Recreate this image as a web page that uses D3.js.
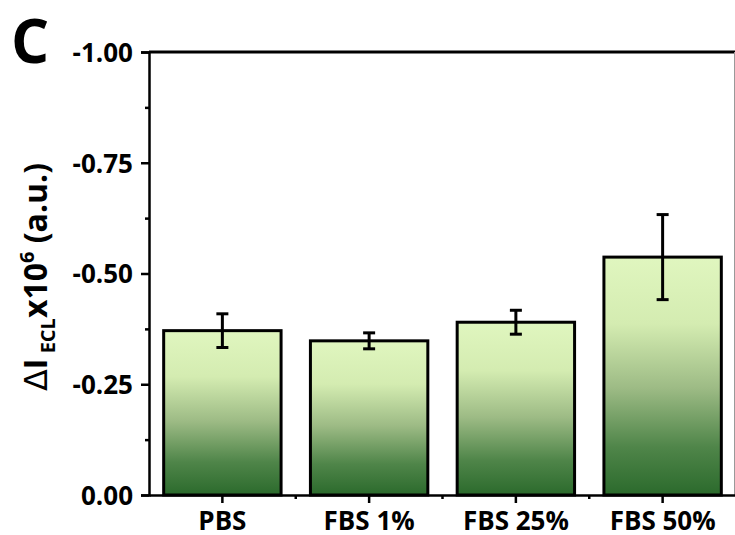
<!DOCTYPE html>
<html>
<head>
<meta charset="utf-8">
<script src="https://cdn.jsdelivr.net/npm/d3@7"></script>
<style>
  html, body { margin: 0; padding: 0; background: #fff; }
  svg { display: block; }
  text { font-family: "Open Sans", "Noto Sans", sans-serif; font-weight: 700; fill: #000; }
</style>
</head>
<body>
<svg id="chart" width="735" height="535"></svg>
<script>
// Sample groups and measured ECL signal change (x10^6, a.u.)
const categories = ["PBS", "FBS 1%", "FBS 25%", "FBS 50%"];
const values = [-0.371, -0.348, -0.390, -0.537];
const errors = [0.038, 0.018, 0.027, 0.096];
const yTicks = [0, -0.25, -0.5, -0.75, -1.0];
const yMinorTicks = [-0.125, -0.375, -0.625, -0.875];

const svg = d3.select("#chart");
const plotLeft = 149, plotRight = 736, plotTop = 52, plotBottom = 495;

const x = d3.scaleBand().domain(categories).range([plotLeft, plotRight])
  .paddingInner(0.2).paddingOuter(0.1);
const y = d3.scaleLinear().domain([0, -1]).range([plotBottom, plotTop]);

// Vertical gradient: pale green at the top of each bar, deep green at its base
const defs = svg.append("defs");
const grad = defs.append("linearGradient").attr("id", "barFill")
  .attr("x1", 0).attr("y1", 0).attr("x2", 0).attr("y2", 1);
grad.append("stop").attr("offset", "0%").attr("stop-color", "#e0f6bf");
grad.append("stop").attr("offset", "28%").attr("stop-color", "#d4ecb1");
grad.append("stop").attr("offset", "55%").attr("stop-color", "#9dbb85");
grad.append("stop").attr("offset", "80%").attr("stop-color", "#4f8549");
grad.append("stop").attr("offset", "100%").attr("stop-color", "#2b6a2c");

// Bars
svg.append("g").selectAll("rect").data(categories).join("rect")
  .attr("x", d => x(d))
  .attr("y", (d, i) => y(values[i]))
  .attr("width", x.bandwidth())
  .attr("height", (d, i) => y(0) - y(values[i]))
  .attr("fill", "url(#barFill)")
  .attr("stroke", "#000")
  .attr("stroke-width", 3);

// Error bars
const eb = svg.append("g").attr("stroke", "#000").attr("stroke-width", 3);
categories.forEach((c, i) => {
  const cx = x(c) + x.bandwidth() / 2;
  const y1 = y(values[i] - errors[i]), y2 = y(values[i] + errors[i]);
  eb.append("line").attr("x1", cx).attr("x2", cx).attr("y1", y1).attr("y2", y2);
  eb.append("line").attr("x1", cx - 6).attr("x2", cx + 6).attr("y1", y1).attr("y2", y1);
  eb.append("line").attr("x1", cx - 6).attr("x2", cx + 6).attr("y1", y2).attr("y2", y2);
});

// Frame (top and right edges)
svg.append("line").attr("x1", plotLeft).attr("x2", plotRight).attr("y1", plotTop).attr("y2", plotTop)
  .attr("stroke", "#000").attr("stroke-width", 2.8);
svg.append("line").attr("x1", 734.5).attr("x2", 734.5).attr("y1", plotTop).attr("y2", plotBottom)
  .attr("stroke", "#999").attr("stroke-width", 1);

// Y axis (plain hyphen for the minus sign)
const fmt = d => d3.format(".2f")(d).replace("\u2212", "-");
const yAxis = svg.append("g").attr("transform", `translate(${plotLeft},0)`)
  .call(d3.axisLeft(y).tickValues(yTicks).tickFormat(fmt).tickSize(8).tickPadding(8));
yAxis.attr("font-family", null).attr("font-size", null);
yAxis.select(".domain").attr("stroke-width", 2.5);
yAxis.selectAll(".tick line").attr("stroke-width", 2.5);
yAxis.selectAll(".tick text").attr("font-size", 26).attr("dy", "0.36em");
svg.append("g").attr("transform", `translate(${plotLeft},0)`)
  .call(d3.axisLeft(y).tickValues(yMinorTicks).tickFormat("").tickSize(4))
  .call(g => g.select(".domain").remove())
  .selectAll(".tick line").attr("stroke-width", 2.5);

// X axis
const xAxis = svg.append("g").attr("transform", `translate(0,${plotBottom})`)
  .call(d3.axisBottom(x).tickSize(8).tickPadding(9).tickSizeOuter(0));
xAxis.attr("font-family", null).attr("font-size", null);
xAxis.select(".domain").attr("stroke-width", 2.5);
xAxis.selectAll(".tick line").attr("stroke-width", 2.5);
xAxis.selectAll(".tick text").attr("font-size", 26);
// minor ticks between groups
const step = x.step();
const boundaries = categories.slice(1).map(c => x(c) - step * x.paddingInner() / 2);
svg.append("g").selectAll("line").data(boundaries).join("line")
  .attr("x1", d => d).attr("x2", d => d)
  .attr("y1", plotBottom).attr("y2", plotBottom + 4)
  .attr("stroke", "#000").attr("stroke-width", 2.5);

// Y axis title
const title = svg.append("text")
  .attr("transform", "translate(47,277) rotate(-90)")
  .attr("text-anchor", "middle")
  .attr("font-size", 32);
title.append("tspan").attr("font-family", "'DejaVu Sans', sans-serif").attr("font-weight", 400).text("Δ");
title.append("tspan").text("I");
title.append("tspan").attr("font-size", 20).attr("dy", 8).text(" ECL");
title.append("tspan").attr("dy", -8).text("x10");
title.append("tspan").attr("font-size", 20).attr("dy", -13).text("6");
title.append("tspan").attr("dy", 13).text(" (a.u.)");

// Panel letter
svg.append("text").attr("x", 11).attr("y", 63).attr("font-size", 60).text("C");
</script>
</body>
</html>
